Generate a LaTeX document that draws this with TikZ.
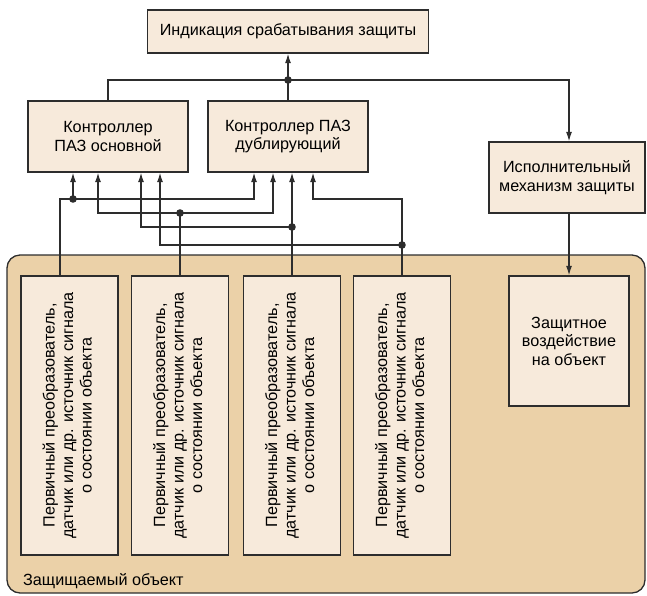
\documentclass[tikz,border=0pt]{standalone}
\usepackage{fontspec}
\setmainfont{Liberation Sans}
\usetikzlibrary{arrows.meta}

\definecolor{boxfill}{RGB}{247,234,219}
\definecolor{objfill}{RGB}{235,209,168}
\definecolor{edge}{RGB}{45,45,45}
\newcommand{\senstext}{\rotatebox{90}{\begin{tabular}{@{}c@{}}Первичный преобразователь,\\датчик или др. источник сигнала\\о состоянии объекта\end{tabular}}}

\begin{document}
\begin{tikzpicture}[x=1pt,y=-1pt,>={Latex[length=9.5pt,width=6pt]},
	blk/.style={draw=edge, line width=1.3pt, fill=boxfill, align=center, inner sep=0pt, font=\fontsize{16.2}{18.5}\selectfont},
	sens/.style={blk, minimum width=97pt, minimum height=279pt},
	wire/.style={draw=edge, line width=1.2pt}]
	\useasboundingbox (0,0) rectangle (647,595);
	% protected object
	\draw[edge, line width=1.3pt, fill=objfill, rounded corners=13pt] (7,255) rectangle (645,593);
	\node[anchor=base west, inner sep=0pt, font=\fontsize{16.2}{18.5}\selectfont] (obj) at (23,585) {Защищаемый объект};
	% blocks
	\node[blk, minimum width=281pt, minimum height=43pt] (ind) at (288,31.5) {Индикация срабатывания защиты};
	\node[blk, minimum width=160pt, minimum height=71pt] (ca) at (108,136.5) {Контроллер\\ПАЗ основной};
	\node[blk, minimum width=160pt, minimum height=71pt] (cb) at (288,136.5) {Контроллер ПАЗ\\дублирующий};
	\node[blk, minimum width=156pt, minimum height=71pt] (exec) at (567,177.5) {Исполнительный\\механизм защиты};
	\node[blk, minimum width=120pt, minimum height=130pt] (prot) at (569,341) {Защитное\\воздействие\\на объект};
	\foreach \n/\x in {1/69.5,2/180,3/292,4/402}
		\node[sens] (s\n) at (\x,415.5) {\senstext};
	% outputs
	\coordinate (j) at (288,80);
	\draw[wire,->] (ca.north) |- (j) -| (exec.north -| prot.north);
	\draw[wire,->] (cb.north) -- (j) -- (ind.south);
	\draw[wire,->] (exec.south -| prot.north) -- (prot.north);
	\fill[edge] (j) circle (3.8pt);
	% inputs
	\foreach \i/\dx in {1/-35,2/-10,3/33,4/52}
		\coordinate (a\i) at ([xshift=\dx pt]ca.south);
	\foreach \i/\dx in {1/-34,2/-15,3/4,4/25}
		\coordinate (b\i) at ([xshift=\dx pt]cb.south);
	\coordinate (d1) at (a1 |- 0,199);
	\coordinate (d2) at (s2.north |- 0,213);
	\coordinate (d3) at (s3.north |- 0,227);
	\coordinate (d4) at (s4.north |- 0,245);
	\draw[wire,->] ([xshift=-9.5pt]s1.north) |- (b1 |- d1) -- (b1);
	\draw[wire,->] (d1) -- (a1);
	\draw[wire] (s2.north) -- (d2);
	\draw[wire,<->] (a2) |- (d2) -| (b2);
	\draw[wire,->] (s3.north) -- (s3.north |- cb.south);
	\draw[wire,->] (d3) -| (a3);
	\draw[wire,->] (s4.north) |- (b4 |- d1) -- (b4);
	\draw[wire,->] (d4) -| (a4);
	\foreach \d in {d1,d2,d3,d4}
		\fill[edge] (\d) circle (3.8pt);
\end{tikzpicture}
\end{document}
